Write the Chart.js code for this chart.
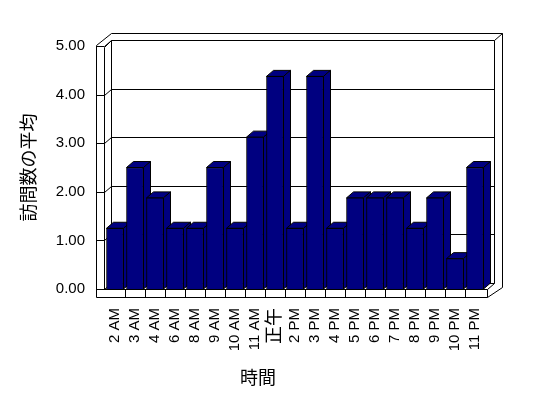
<!DOCTYPE html>
<html><head><meta charset="utf-8">
<script src="https://cdn.jsdelivr.net/npm/chart.js@4"></script>
<style>html,body{margin:0;padding:0;background:#fff}canvas{display:block}</style>
</head><body>
<canvas id="c" width="548" height="398"></canvas>
<script>
const categories = ['2 AM','3 AM','4 AM','6 AM','8 AM','9 AM','10 AM','11 AM','正午','2 PM','3 PM','4 PM','5 PM','6 PM','7 PM','8 PM','9 PM','10 PM','11 PM'];
const averageVisits = [1.25,2.5,1.875,1.25,1.25,2.5,1.25,3.125,4.375,1.25,4.375,1.25,1.875,1.875,1.875,1.25,1.875,0.625,2.5];
const yTicks = [0,1,2,3,4,5];
const yAxisTitle = '訪問数の平均';
const xAxisTitle = '時間';

const FONT = '"Liberation Sans", "Noto Sans CJK JP", sans-serif';
const JFONT = '"Noto Sans CJK JP", sans-serif';
const BAR = '#000080';
const DX = 7, DY = -6;

function px(v){ return Math.round(v) + 0.5; }

const wallPlugin = {
  id: 'walls3d',
  beforeDatasetsDraw(chart) {
    const ctx = chart.ctx;
    const ys = chart.scales.y, xs = chart.scales.x;
    const a = chart.chartArea;
    const L = a.left, R = a.right;
    const T = ys.getPixelForValue(yTicks[yTicks.length-1]), B = ys.getPixelForValue(yTicks[0]);
    ctx.save();
    ctx.strokeStyle = '#000'; ctx.lineWidth = 1;
    const line = (pts) => { ctx.beginPath(); ctx.moveTo(px(pts[0][0]), px(pts[0][1])); for (let i=1;i<pts.length;i++) ctx.lineTo(px(pts[i][0]), px(pts[i][1])); ctx.stroke(); };
    line([[L-9, B+8],[L-9, T-1],[L+6, T-13],[R+17, T-13],[R+17, B-2],[R+2, B+8],[L-9, B+8]]);
    line([[L-1, B],[L-1, T+1],[L+6, T-6]]);
    line([[L+6, T-6],[L+6, B-6]]);
    line([[R+9, T-6],[R+17, T-13]]);
    line([[R+9, T-6],[R+9, B-6],[R+2, B]]);
    line([[L-9, B],[R+2, B],[R+2, B+8]]);
    yTicks.forEach(v => {
      const y = ys.getPixelForValue(v);
      line([[L-9, y],[L-1, y],[L+6, y-6],[R+9, y-6]]);
    });
    for (let i = 0; i < categories.length - 1; i++) {
      const xb = (xs.getPixelForValue(i) + xs.getPixelForValue(i+1)) / 2;
      line([[xb, B],[xb, B+8]]);
    }
    const meta = chart.getDatasetMeta(0);
    ctx.fillStyle = BAR;
    meta.data.forEach(el => {
      const p = el.getProps(['x','y','base','width'], true);
      const l = p.x - p.width/2, r = p.x + p.width/2, t = p.y, b = p.base;
      ctx.beginPath();
      ctx.moveTo(l, t); ctx.lineTo(l+DX, t+DY); ctx.lineTo(r+DX, t+DY); ctx.lineTo(r, t); ctx.closePath();
      ctx.fill(); ctx.stroke();
      ctx.beginPath();
      ctx.moveTo(r, t); ctx.lineTo(r+DX, t+DY); ctx.lineTo(r+DX, b+DY); ctx.lineTo(r, b); ctx.closePath();
      ctx.fill(); ctx.stroke();
    });
    ctx.restore();
  }
};

new Chart(document.getElementById('c'), {
  type: 'bar',
  data: {
    labels: categories,
    datasets: [{
      data: averageVisits,
      backgroundColor: BAR,
      borderColor: '#000',
      borderWidth: 1,
      barThickness: 17,
      categoryPercentage: 1
    }]
  },
  options: {
    responsive: false,
    animation: false,
    layout: { padding: { left: 0, right: 32, top: 46, bottom: 0 } },
    plugins: {
      legend: { display: false },
      tooltip: { enabled: false },
      title: {
        display: true, position: 'bottom', text: xAxisTitle, color: '#000',
        font: { family: JFONT, size: 18, weight: 'normal' },
        padding: { top: 0, bottom: 10 }
      }
    },
    scales: {
      x: {
        grid: { display: false, drawTicks: false },
        border: { display: false },
        ticks: {
          color: '#000', autoSkip: false, maxRotation: 90, minRotation: 90, padding: 19,
          font: (c) => ({ family: FONT, size: (c.tick && c.tick.label === '正午') ? 18 : 15 })
        },
        afterFit: (s) => { s.height = 77.4; }
      },
      y: {
        min: 0, max: 5,
        afterBuildTicks: (s) => { s.ticks = yTicks.map(v => ({ value: v })); },
        grid: { display: false, drawTicks: false },
        border: { display: false },
        ticks: { color: '#000', padding: 20, font: { family: FONT, size: 15 }, callback: (v) => Number(v).toFixed(2) },
        title: { display: true, text: yAxisTitle, color: '#000', font: { family: JFONT, size: 18 }, padding: { top: 17, bottom: 0 } },
        afterFit: (s) => { s.width = 105; }
      },
      y2: {
        position: 'right', display: true,
        grid: { display: false, drawTicks: false },
        border: { display: false },
        ticks: { display: false },
        afterFit: (s) => { s.width = 31; }
      }
    }
  },
  plugins: [wallPlugin]
});
</script>
</body></html>
